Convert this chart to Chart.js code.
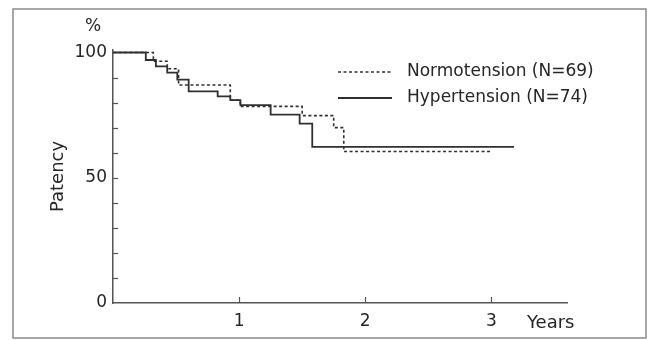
<!DOCTYPE html>
<html><head><meta charset="utf-8">
<script src="https://cdn.jsdelivr.net/npm/chart.js@4.4.1/dist/chart.umd.min.js"></script>
<style>html,body{margin:0;padding:0;background:#fff;}#wrap{width:650px;height:340px;}</style>
</head><body><div id="wrap"><canvas id="c" width="650" height="340"></canvas></div>
<script>
// Kaplan-Meier style patency curves (years, % patency after each step)
const normYears    = [0, 0.32, 0.43, 0.52, 0.93, 1.01, 1.50, 1.75, 1.83, 2.99];
const normPatency  = [100, 96.5, 93.5, 87.0, 81.0, 78.5, 74.8, 70.0, 60.5, 60.5];
const hyperYears   = [0, 0.26, 0.34, 0.43, 0.51, 0.60, 0.83, 0.93, 1.01, 1.25, 1.48, 1.58, 3.18];
const hyperPatency = [100, 97.0, 94.5, 92.0, 89.2, 84.5, 82.5, 81.0, 79.0, 75.2, 71.6, 62.3, 62.3];
const seriesLabels = ['Normotension (N=69)', 'Hypertension (N=74)'];
const xTickValues = [1, 2, 3];
const yTickValues = [0, 50, 100];
const yMinorTicks = [10, 20, 30, 40, 50, 60, 70, 80, 90];

const FONT = '"DejaVu Sans", sans-serif';
const INK = '#262626';
const LINE = '#303030';

const toPoints = (xs, ys) => xs.map((x, i) => ({x: x, y: ys[i]}));

const decor = {
  id: 'decor',
  afterDraw(chart) {
    const ctx = chart.ctx, xs = chart.scales.x, ys = chart.scales.y;
    ctx.save();
    // outer frame
    ctx.strokeStyle = '#8a8a8a'; ctx.lineWidth = 1.5;
    ctx.strokeRect(13, 9, 633, 329);
    // inward ticks
    ctx.strokeStyle = '#555'; ctx.lineWidth = 1.2;
    yMinorTicks.forEach(v => {
      const y = Math.round(ys.getPixelForValue(v)) + 0.5;
      ctx.beginPath(); ctx.moveTo(xs.left, y); ctx.lineTo(xs.left + 5, y); ctx.stroke();
    });
    xTickValues.forEach(v => {
      const x = Math.round(xs.getPixelForValue(v)) + 0.5;
      ctx.beginPath(); ctx.moveTo(x, ys.bottom); ctx.lineTo(x, ys.bottom - 6); ctx.stroke();
    });
    // unit labels
    ctx.fillStyle = INK;
    ctx.font = '17px ' + FONT;
    ctx.textAlign = 'center'; ctx.textBaseline = 'middle';
    ctx.fillText('%', 93, 27);
    ctx.font = '18px ' + FONT;
    ctx.textAlign = 'left';
    ctx.fillText('Years', 527, 323);
    // legend
    const legY = [72, 98];
    ctx.font = '17px ' + FONT;
    chart.data.datasets.forEach((ds, i) => {
      ctx.strokeStyle = ds.borderColor; ctx.lineWidth = ds.borderWidth;
      ctx.setLineDash(ds.borderDash || []);
      ctx.beginPath(); ctx.moveTo(338, legY[i]); ctx.lineTo(392, legY[i]); ctx.stroke();
      ctx.setLineDash([]);
      ctx.fillStyle = INK; ctx.textAlign = 'left'; ctx.textBaseline = 'middle';
      ctx.fillText(ds.label, 407, legY[i]);
    });
    ctx.restore();
  }
};

new Chart(document.getElementById('c'), {
  type: 'line',
  data: {
    datasets: [
      { label: seriesLabels[0], data: toPoints(normYears, normPatency), stepped: 'before',
        borderColor: LINE, borderWidth: 1.6, borderDash: [3, 2.5], pointRadius: 0, fill: false },
      { label: seriesLabels[1], data: toPoints(hyperYears, hyperPatency), stepped: 'before',
        borderColor: LINE, borderWidth: 1.8, pointRadius: 0, fill: false }
    ]
  },
  options: {
    responsive: false, animation: false, devicePixelRatio: 1,
    layout: { padding: { left: 0, top: 50, right: 83, bottom: 0 } },
    plugins: { legend: { display: false }, tooltip: { enabled: false } },
    scales: {
      x: {
        type: 'linear', min: 0, max: 3.6,
        afterFit: s => { s.height = 37; },
        afterBuildTicks: s => { s.ticks = xTickValues.map(v => ({value: v})); },
        grid: { display: false, drawTicks: false },
        border: { display: true, color: '#555', width: 1.5 },
        ticks: { color: INK, font: { family: FONT, size: 17 }, padding: 8, maxRotation: 0, autoSkip: false }
      },
      y: {
        type: 'linear', min: 0, max: 101,
        afterFit: s => { s.width = 113; },
        afterBuildTicks: s => { s.ticks = yTickValues.map(v => ({value: v})); },
        grid: { display: false, drawTicks: false },
        border: { display: true, color: '#555', width: 1.5 },
        ticks: { color: INK, font: { family: FONT, size: 17 }, padding: 6 },
        title: { display: true, text: 'Patency', color: INK, font: { family: FONT, size: 18 }, padding: { top: 48, bottom: 0 } }
      }
    }
  },
  plugins: [decor]
});
</script></body></html>
